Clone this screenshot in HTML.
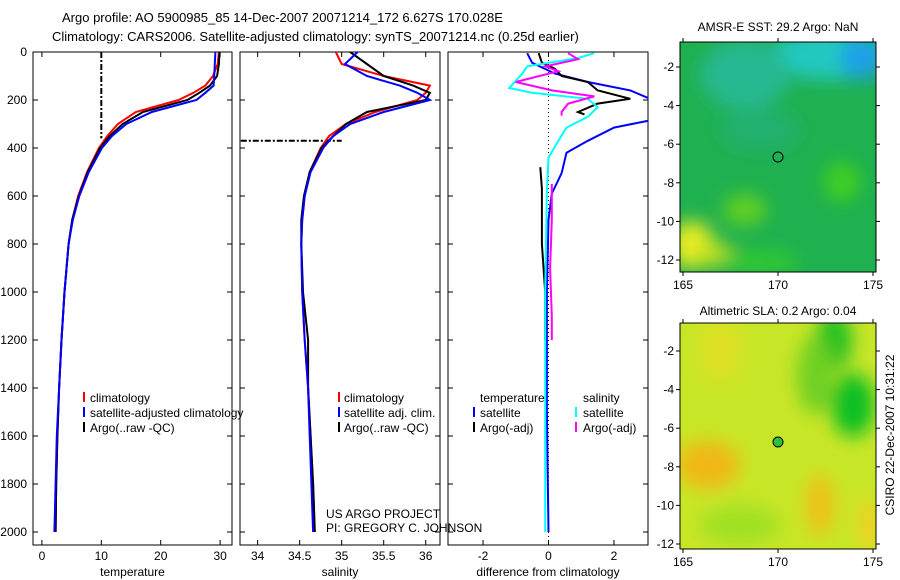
<!DOCTYPE html>
<html><head><meta charset="utf-8"><style>
body{margin:0;background:#fff;}
svg{display:block;font-family:"Liberation Sans",sans-serif;}
text{font-size:12px;fill:#000;}
</style></head><body>
<svg id="chart" width="900" height="580" viewBox="0 0 900 580">
<defs>
<filter id="blur" x="-50%" y="-50%" width="200%" height="200%"><feGaussianBlur stdDeviation="9"/></filter>
<clipPath id="m1clip"><rect x="680" y="42" width="196" height="230"/></clipPath>
<clipPath id="m2clip"><rect x="680" y="323" width="196" height="226"/></clipPath>
<clipPath id="p1clip"><rect x="33" y="52" width="199" height="493"/></clipPath>
<clipPath id="p2clip"><rect x="240" y="52" width="200" height="493"/></clipPath>
<clipPath id="p3clip"><rect x="448" y="52" width="200" height="493"/></clipPath>
</defs>
<text x="62" y="22" style="font-size:13px">Argo profile: AO 5900985_85 14-Dec-2007 20071214_172 6.627S 170.028E</text>
<text x="52" y="41" style="font-size:13px">Climatology: CARS2006. Satellite-adjusted climatology: synTS_20071214.nc (0.25d earlier)</text>

<g clip-path="url(#m1clip)">
<rect x="680" y="42" width="196" height="230" fill="#1fb050"/>
<g filter="url(#blur)">
<ellipse cx="830" cy="55" rx="60" ry="25" fill="#20c8c0"/>
<ellipse cx="862" cy="58" rx="22" ry="22" fill="#1aa0e8"/>
<ellipse cx="745" cy="75" rx="45" ry="35" fill="#25b890"/>
<ellipse cx="760" cy="130" rx="40" ry="20" fill="#20b070"/>
<ellipse cx="692" cy="245" rx="22" ry="24" fill="#e8ec20"/>
<ellipse cx="715" cy="255" rx="20" ry="12" fill="#c0e020"/>
<ellipse cx="745" cy="210" rx="22" ry="16" fill="#60d020"/>
<ellipse cx="842" cy="182" rx="18" ry="20" fill="#40d020"/>
<ellipse cx="760" cy="262" rx="40" ry="12" fill="#30c830"/>
</g>
</g>
<rect x="680" y="42" width="196" height="230" fill="none" stroke="#000"/>
<circle cx="778" cy="157" r="5" fill="none" stroke="#000"/>
<text x="778" y="31" text-anchor="middle">AMSR-E SST: 29.2 Argo: NaN</text>

<g clip-path="url(#m2clip)">
<rect x="680" y="323" width="196" height="226" fill="#c8e628"/>
<g filter="url(#blur)">
<ellipse cx="834" cy="340" rx="18" ry="30" fill="#20c020"/>
<ellipse cx="853" cy="405" rx="22" ry="32" fill="#10c020"/>
<ellipse cx="815" cy="375" rx="18" ry="40" fill="#70d020"/>
<ellipse cx="708" cy="465" rx="32" ry="24" fill="#f0b818"/>
<ellipse cx="820" cy="505" rx="14" ry="30" fill="#f0c018"/>
<ellipse cx="740" cy="525" rx="40" ry="20" fill="#a0e020"/>
<ellipse cx="720" cy="350" rx="20" ry="30" fill="#e0e020"/>
<ellipse cx="870" cy="525" rx="12" ry="25" fill="#f0d020"/>
</g>
</g>
<rect x="680" y="323" width="196" height="226" fill="none" stroke="#000"/>
<circle cx="778" cy="442" r="5" fill="#30c040" stroke="#000"/>
<text x="778" y="315" text-anchor="middle">Altimetric SLA: 0.2 Argo: 0.04</text>
<text transform="translate(894,435) rotate(-90)" text-anchor="middle">CSIRO 22-Dec-2007 10:31:22</text>

<g id="axes"></g>
<g id="series"></g>

<g>
<line x1="84" y1="392" x2="84" y2="402" stroke="red" stroke-width="2"/><text x="90" y="402">climatology</text>
<line x1="84" y1="407" x2="84" y2="417" stroke="blue" stroke-width="2"/><text x="90" y="417">satellite-adjusted climatology</text>
<line x1="84" y1="422" x2="84" y2="432" stroke="#000" stroke-width="2"/><text x="90" y="432">Argo(..raw -QC)</text>
</g>
<g>
<line x1="339" y1="392" x2="339" y2="402" stroke="red" stroke-width="2"/><text x="344" y="402">climatology</text>
<line x1="339" y1="407" x2="339" y2="417" stroke="blue" stroke-width="2"/><text x="344" y="417">satellite adj. clim.</text>
<line x1="339" y1="422" x2="339" y2="432" stroke="#000" stroke-width="2"/><text x="344" y="432">Argo(..raw -QC)</text>
</g>
<g>
<text x="480" y="402">temperature</text><text x="583" y="402">salinity</text>
<line x1="474" y1="407" x2="474" y2="417" stroke="blue" stroke-width="2"/><text x="480" y="417">satellite</text>
<line x1="474" y1="422" x2="474" y2="432" stroke="#000" stroke-width="2"/><text x="480" y="432">Argo(-adj)</text>
<line x1="576" y1="407" x2="576" y2="417" stroke="cyan" stroke-width="2"/><text x="583" y="417">satellite</text>
<line x1="576" y1="422" x2="576" y2="432" stroke="magenta" stroke-width="2"/><text x="583" y="432">Argo(-adj)</text>
</g>
<text x="326" y="518">US ARGO PROJECT</text>
<text x="326" y="532">PI: GREGORY C. JOHNSON</text>
</svg>
<script>
const depthGrid = [0,50,100,140,170,200,250,300,350,400,500,600,700,800,1000,1200,1400,1600,1800,2000];
const tempClim = [29.8,29.6,28.8,27.5,25.5,23,15.8,12.8,11,9.6,7.6,6.1,5.1,4.5,3.8,3.3,2.9,2.6,2.4,2.3];
const tempSat  = [29.2,29.1,29.0,28.9,27.5,26,18.5,14.2,11.8,10.1,7.9,6.3,5.2,4.5,3.8,3.3,2.9,2.5,2.3,2.1];
const tempArgo = [29.9,29.8,29.5,28.3,26.5,24.5,17,13.6,11.4,9.8,7.7,6.2,5.1,4.5,3.8,3.3,2.9,2.6,2.4,2.3];
const salClim  = [34.93,35.0,35.5,36.05,36.0,35.9,35.4,35.05,34.85,34.75,34.62,34.56,34.53,34.52,34.53,34.56,34.6,34.63,34.66,34.68];
const salSat   = [35.19,35.04,35.3,35.69,35.9,36.05,35.5,35.1,34.9,34.78,34.63,34.56,34.53,34.52,34.53,34.56,34.6,34.62,34.64,34.66];
const salArgo  = [35.1,35.3,35.5,35.85,36.05,36.0,35.3,35.05,34.9,34.76,34.62,34.55,34.52,34.52,34.54,34.6,34.6,34.63,34.66,34.68];
const dTempSatDepths = [5,45,90,125,160,195,285,315,370,420,505,590,700,1000,1500,2000];
const dTempSat = [-0.65,-0.5,0.2,1.2,2.5,3.1,3.1,2.0,1.2,0.55,0.4,0.1,0.0,-0.05,-0.05,0];
const dSalSatDepths = [5,25,60,90,150,170,195,230,270,315,370,440,580,1000,1500,2000];
const dSalSat  = [1.4,0.9,-0.65,-0.8,-1.2,-0.5,1.2,1.5,1.2,0.55,0.3,0.0,-0.05,-0.1,-0.1,-0.1];
const dTempArgoDepths = [5,45,70,100,125,160,195,215,250,260];
const dTempArgo = [-0.3,-0.2,0.2,0.4,1.2,1.5,2.5,1.5,0.9,1.1];
const dSalArgoDepths = [5,30,60,80,125,160,185,215,250,265];
const dSalArgo  = [0.6,0.9,-0.1,0.3,-1.0,0.1,1.4,0.6,0.4,0.4];
const deepTempDepths = [480,570,640,800,1000,1200];
const dTempArgoDeep = [-0.25,-0.2,-0.2,-0.2,-0.1,-0.1];
const deepSalDepths = [550,700,900,1100,1200];
const dSalArgoDeep  = [0.1,0.1,0.05,0.1,0.1];
const qcTempDepths = [0,360];
const qcTempVals = [10,10];
const qcSalDepths = [370,370];
const qcSalVals = [33.8,35.0];
const depthTicks = [0,200,400,600,800,1000,1200,1400,1600,1800,2000];
const tempTicks = [0,10,20,30];
const salTicks = [34,34.5,35,35.5,36];
const diffTicks = [-2,0,2];
const lonTicks = [165,170,175];
const latTicks = [-2,-4,-6,-8,-10,-12];

const NS='http://www.w3.org/2000/svg';
const yD = d => 52 + d*0.24;
const panels = [
 {x0:33,x1:232,lo:-1.5,hi:32,ticks:tempTicks,label:'temperature',clip:'p1clip'},
 {x0:240,x1:440,lo:33.79,hi:36.17,ticks:salTicks,label:'salinity',clip:'p2clip'},
 {x0:448,x1:648,lo:-3.07,hi:3.04,ticks:diffTicks,label:'difference from climatology',clip:'p3clip'}
];
panels.forEach(p=>{p.sx=v=>p.x0+(v-p.lo)/(p.hi-p.lo)*(p.x1-p.x0);});
const axes=document.getElementById('axes'), ser=document.getElementById('series');
function mk(tag,attrs,parent,txt){const e=document.createElementNS(NS,tag);for(const k in attrs)e.setAttribute(k,attrs[k]);if(txt!==undefined)e.textContent=txt;parent.appendChild(e);return e;}
panels.forEach((p,i)=>{
 const g=mk('g',{},axes);
 
 
 mk('rect',{x:p.x0,y:52,width:p.x1-p.x0,height:493,fill:'none',stroke:'#000'},g);
 p.ticks.forEach(t=>{const x=p.sx(t);
  mk('line',{x1:x,y1:545,x2:x,y2:540,stroke:'#000'},g);
  mk('line',{x1:x,y1:52,x2:x,y2:57,stroke:'#000'},g);
  const tl=mk('text',{x:x,y:560,'text-anchor':'middle'},g,String(t));
  
  });
 depthTicks.forEach(d=>{const y=yD(d);
  mk('line',{x1:p.x0,y1:y,x2:p.x0+5,y2:y,stroke:'#000'},g);
  mk('line',{x1:p.x1,y1:y,x2:p.x1-5,y2:y,stroke:'#000'},g);
  if(i===0){const tl=mk('text',{x:27,y:y+4,'text-anchor':'end'},g,String(d));
   
   }});
 const xl=mk('text',{x:(p.x0+p.x1)/2,y:576,'text-anchor':'middle'},g,p.label);
 
 
});
mk('line',{x1:panels[2].sx(0),y1:52,x2:panels[2].sx(0),y2:545,stroke:'#000','stroke-dasharray':'1,3'},axes);
function line(p,depths,vals,color,name,dash){
 const pts=depths.map((d,k)=>p.sx(vals[k]).toFixed(1)+','+yD(d).toFixed(1)).join(' ');
 const e=mk('polyline',{points:pts,fill:'none',stroke:color,'stroke-width':2,'clip-path':'url(#'+p.clip+')'},ser);
 if(dash)e.setAttribute('stroke-dasharray',dash);
 
 
}
line(panels[0],qcTempDepths,qcTempVals,'#000','temp-argo-qc-line','6,2,2,2');
line(panels[0],depthGrid,tempClim,'red','temp-climatology-line');
line(panels[0],depthGrid,tempArgo,'#000','temp-argo-line');
line(panels[0],depthGrid,tempSat,'blue','temp-satellite-line');
line(panels[1],qcSalDepths,qcSalVals,'#000','sal-argo-qc-line','6,2,2,2');
line(panels[1],depthGrid,salClim,'red','sal-climatology-line');
line(panels[1],depthGrid,salArgo,'#000','sal-argo-line');
line(panels[1],depthGrid,salSat,'blue','sal-satellite-line');
line(panels[2],dTempSatDepths,dTempSat,'blue','diff-temp-satellite-line');
line(panels[2],dTempArgoDepths,dTempArgo,'#000','diff-temp-argo-line');
line(panels[2],deepTempDepths,dTempArgoDeep,'#000','diff-temp-argo-deep-line');
line(panels[2],dSalSatDepths,dSalSat,'cyan','diff-sal-satellite-line');
line(panels[2],dSalArgoDepths,dSalArgo,'magenta','diff-sal-argo-line');
line(panels[2],deepSalDepths,dSalArgoDeep,'magenta','diff-sal-argo-deep-line');

[[42,272,67],[323,549,351]].forEach((m,mi)=>{
 const g=mk('g',{},axes);
 
 
 lonTicks.forEach(lon=>{const x=683+(lon-165)*19;
  mk('line',{x1:x,y1:m[1],x2:x,y2:m[1]+4,stroke:'#000'},g);
  mk('line',{x1:x,y1:m[0],x2:x,y2:m[0]-4,stroke:'#000'},g);
  mk('text',{x:x,y:m[1]+17,'text-anchor':'middle'},g,String(lon));});
 latTicks.forEach(lat=>{const y=m[2]+(-2-lat)*19.3;
  mk('line',{x1:676,y1:y,x2:680,y2:y,stroke:'#000'},g);
  mk('line',{x1:876,y1:y,x2:880,y2:y,stroke:'#000'},g);
  mk('text',{x:674,y:y+4,'text-anchor':'end'},g,String(lat));});
});
</script>
</body></html>
